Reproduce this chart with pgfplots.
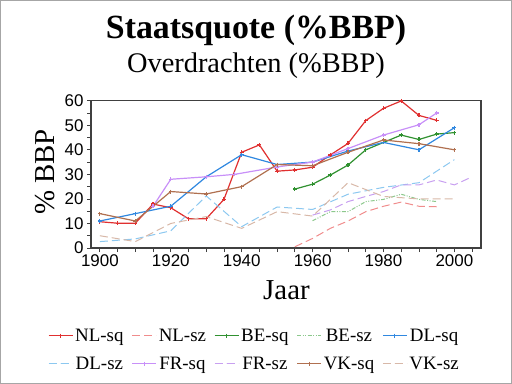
\documentclass[border=0pt]{standalone}
\usepackage{pgfplots}
\pgfplotsset{compat=1.18}
\usepackage{fontspec}
\setmainfont{Liberation Serif}
\newfontfamily\arial{Liberation Sans}
\definecolor{nlsq}{RGB}{224,48,48}
\definecolor{nlsz}{RGB}{240,140,140}
\definecolor{besq}{RGB}{48,145,48}
\definecolor{besz}{RGB}{140,200,140}
\definecolor{dlsq}{RGB}{48,136,224}
\definecolor{dlsz}{RGB}{140,200,240}
\definecolor{frsq}{RGB}{200,144,248}
\definecolor{frsz}{RGB}{200,160,240}
\definecolor{vksq}{RGB}{176,112,80}
\definecolor{vksz}{RGB}{216,184,168}
\definecolor{axgray}{RGB}{64,64,64}
\begin{document}
\begin{tikzpicture}
\draw[gray!70, line width=1bp] (0.5bp,0.5bp) rectangle (511.5bp,383.5bp);
\node[anchor=base, font=\fontsize{34}{34}\selectfont\bfseries] at (256bp,345bp) {Staatsquote (\%BBP)};
\node[anchor=base, font=\fontsize{28.5}{28.5}\selectfont] at (256bp,311bp) {Overdrachten (\%BBP)};
\node[rotate=90, font=\fontsize{29}{29}\selectfont] at (45bp,212bp) {\% BBP};
\node[anchor=base, font=\fontsize{29}{29}\selectfont] at (286.5bp,84bp) {Jaar};
\begin{axis}[
  at={(91bp,136bp)}, anchor=south west,
  scale only axis, width=390bp, height=147.3bp,
  xmin=1897.5, xmax=2007.5, ymin=0, ymax=60,
  xtick={1900,1920,...,2000}, minor xtick={1905,1910,...,2005},
  ytick={0,10,...,60}, minor ytick={5,15,...,55},
  tick pos=left, tick align=outside,
  major tick length=4bp, minor tick length=4bp,
  tick style={axgray, line width=0.8bp},
  axis line style={axgray, line width=1.2bp},
  ticklabel style={font=\arial\fontsize{17}{17}\selectfont},
  /pgf/number format/assume math mode=true,
  /pgf/number format/1000 sep={},
  xticklabel style={yshift=1bp},
  legend columns=5,
  legend style={at={(0.419,-0.69)}, anchor=center, draw=none, fill=none,
    font=\fontsize{19}{21}\selectfont, row sep=10bp,
    /tikz/every even column/.append style={column sep=6bp}},
  legend image code/.code={\draw[mark repeat=2,mark phase=2] plot coordinates {(0bp,0bp) (12bp,0bp) (24bp,0bp)};},
  every axis plot/.append style={mark size=2bp},
]
\addplot[nlsq, line width=1.2bp, mark=+] coordinates {(1900,10.7)(1905,10.1)(1910,10.1)(1915,17.9)(1920,16.4)(1925,11.9)(1930,11.9)(1935,19.8)(1940,39)(1945,42)(1950,31.3)(1955,31.8)(1960,32.9)(1965,37.9)(1970,42.6)(1975,51.9)(1980,56.9)(1985,59.9)(1990,54)(1995,52)};
\addlegendentry{NL-sq}
\addplot[nlsz, line width=1bp, dash pattern=on 8bp off 4bp] coordinates {(1955,0.5)(1960,3.9)(1965,8)(1970,11)(1975,14.8)(1980,17)(1985,18.7)(1990,17)(1995,16.8)};
\addlegendentry{NL-sz}
\addplot[besq, line width=1.2bp, mark=+] coordinates {(1955,24)(1960,26)(1965,29.7)(1970,33.8)(1975,40)(1980,43)(1985,46)(1990,44.2)(1995,46.4)(2000,47)};
\addlegendentry{BE-sq}
\addplot[besz, line width=1bp, dash pattern=on 4bp off 1.5bp on 1bp off 1.5bp on 1bp off 1.5bp] coordinates {(1960,11.1)(1965,14.8)(1970,14.8)(1975,18.9)(1980,19.8)(1985,21.9)(1990,19.8)(1995,18.9)};
\addlegendentry{BE-sz}
\addplot[dlsq, line width=1.2bp, mark=+] coordinates {(1900,11)(1910,14)(1920,17)(1930,29)(1940,38)(1950,34)(1960,35)(1970,39.5)(1980,43)(1990,40)(2000,49)};
\addlegendentry{DL-sq}
\addplot[dlsz, line width=1bp, dash pattern=on 8bp off 4bp] coordinates {(1900,2.6)(1910,3.7)(1920,7)(1930,21.2)(1940,8.7)(1950,16.7)(1960,15.7)(1970,21.9)(1980,24.7)(1990,26.6)(2000,36)};
\addlegendentry{DL-sz}
\addplot[frsq, line width=1.2bp, mark=+] coordinates {(1915,17)(1920,28)(1930,29)(1938,30)(1950,33)(1960,35)(1970,40.5)(1980,46)(1990,50.2)(1995,55)};
\addlegendentry{FR-sq}
\addplot[frsz, line width=1bp, dash pattern=on 8bp off 4bp] coordinates {(1960,13.4)(1965,15.5)(1970,18.9)(1975,21)(1980,23)(1985,25.7)(1990,25.7)(1995,27.7)(2000,25.7)(2005,29)};
\addlegendentry{FR-sz}
\addplot[vksq, line width=1.2bp, mark=+] coordinates {(1900,14)(1910,11)(1920,23)(1930,22)(1940,25)(1950,34)(1960,33.5)(1970,39)(1980,44)(1990,42.5)(2000,40)};
\addlegendentry{VK-sq}
\addplot[vksz, line width=1bp, dash pattern=on 8bp off 4bp] coordinates {(1900,5)(1910,2.6)(1920,10)(1930,12.8)(1940,8)(1950,14.8)(1960,13)(1970,26.6)(1980,21)(1990,20)(2000,20)};
\addlegendentry{VK-sz}
\end{axis}
\end{tikzpicture}
\end{document}
